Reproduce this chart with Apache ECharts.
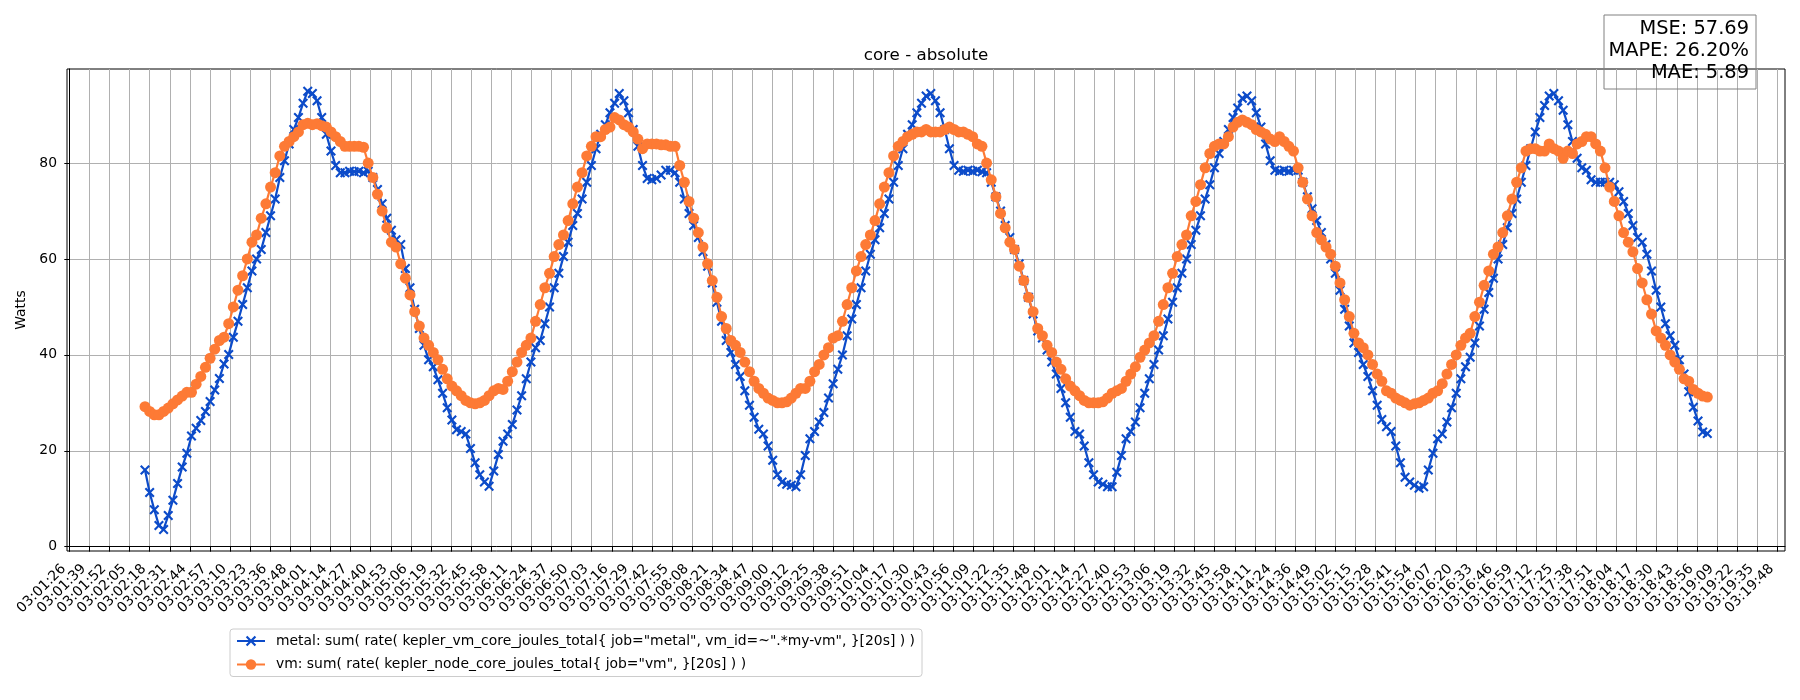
<!DOCTYPE html>
<html>
<head>
<meta charset="utf-8">
<script src="https://cdn.jsdelivr.net/npm/echarts@6/dist/echarts.min.js"></script>
<style>html,body{margin:0;padding:0;background:#fff}#c{width:1800px;height:700px}</style>
</head>
<body>
<div id="c"></div>
<script>
const tickLabels = ['03:01:26','03:01:39','03:01:52','03:02:05','03:02:18','03:02:31','03:02:44','03:02:57','03:03:10','03:03:23','03:03:36','03:03:48','03:04:01','03:04:14','03:04:27','03:04:40','03:04:53','03:05:06','03:05:19','03:05:32','03:05:45','03:05:58','03:06:11','03:06:24','03:06:37','03:06:50','03:07:03','03:07:16','03:07:29','03:07:42','03:07:55','03:08:08','03:08:21','03:08:34','03:08:47','03:09:00','03:09:12','03:09:25','03:09:38','03:09:51','03:10:04','03:10:17','03:10:30','03:10:43','03:10:56','03:11:09','03:11:22','03:11:35','03:11:48','03:12:01','03:12:14','03:12:27','03:12:40','03:12:53','03:13:06','03:13:19','03:13:32','03:13:45','03:13:58','03:14:11','03:14:24','03:14:36','03:14:49','03:15:02','03:15:15','03:15:28','03:15:41','03:15:54','03:16:07','03:16:20','03:16:33','03:16:46','03:16:59','03:17:12','03:17:25','03:17:38','03:17:51','03:18:04','03:18:17','03:18:30','03:18:43','03:18:56','03:19:09','03:19:22','03:19:35','03:19:48'];

const yTickValues = [0, 20, 40, 60, 80];

const seriesNames = [
  'metal: sum( rate( kepler_vm_core_joules_total{ job="metal", vm_id=~".*my-vm", }[20s] ) )',
  'vm: sum( rate( kepler_node_core_joules_total{ job="vm", }[20s] ) )'
];

// metal series (Watts), one sample every 3 s
const metalValues = [
  16.0, 11.3, 7.7, 4.4, 3.6, 6.5, 9.7, 13.2, 16.6, 19.5,
  23.1, 24.7, 26.3, 28.2, 30.3, 32.7, 35.1, 38.1, 40.1, 43.7,
  47, 50.5, 54, 57.5, 60, 62, 65.5, 69, 72.5, 77,
  80.5, 84, 87, 89.5, 92.5, 95, 94.5, 93, 89.5, 86,
  82.5, 79.5, 78, 78, 78.3, 78.2, 78.3, 78, 78.3, 77,
  74.5, 71.5, 68.5, 66, 64, 63, 58, 54, 49.5, 45.5,
  42, 39, 37.5, 34.8, 32, 29, 26.4, 24.4, 24, 23.5,
  20.5, 17.5, 15, 13.5, 12.6, 15.8, 19.2, 22, 23.5, 25.5,
  28.5, 31.5, 35, 38.5, 41.5, 43, 46.5, 50, 54, 57,
  60.5, 63.5, 67, 69.5, 72.5, 76, 79.5, 83, 86, 88,
  90.5, 92.5, 94.5, 93, 90.5, 87, 83.5, 79.5, 76.8, 76.5,
  76.8, 77.5, 78.5, 78.5, 78, 76, 72.5, 69.5, 67, 64.5,
  61.5, 58.5, 55, 51, 47, 43, 40.5, 38, 35.5, 32.5,
  29.5, 27, 24.5, 23.5, 21, 18, 15, 13.5, 13, 12.8,
  12.5, 15, 19, 22.5, 24, 26, 28, 31, 34, 37,
  40, 44, 47.5, 50.5, 54, 57.5, 61, 64, 66.5, 69.5,
  72.5, 76, 79.5, 83, 86, 88, 90.5, 92.5, 94, 94.5,
  93, 90.5, 87, 83, 79.5, 78.5, 78.3, 78.5, 78.3, 78.5,
  78.2, 78, 76, 73, 70, 67, 64.5, 62, 59, 55.5,
  52, 48.5, 45, 43.5, 41, 38.5, 36, 33, 30, 27,
  24, 23.5, 21, 17.5, 15, 13.5, 13, 12.5, 12.5, 15.5,
  19, 22.5, 24, 26, 29, 32, 35, 38, 41, 44,
  47.5, 51, 54, 57, 60, 63, 66, 69, 72.5, 75.5,
  79, 82, 84.5, 87, 89.5, 91.5, 93.5, 94, 93, 90.5,
  87.5, 84, 80.5, 78.5, 78.3, 78.5, 78.3, 78.5, 78.5, 76,
  73, 70.5, 68, 65.5, 63, 60, 57, 53.5, 49.5, 46,
  42.5, 40.5, 38, 35.5, 32.5, 29.5, 26.5, 25, 24, 21,
  17.5, 14.5, 13.5, 12.8, 12.2, 12.5, 16, 19.5, 22.5, 23.5,
  26, 29, 32, 35, 37.5, 39.5, 42.5, 46, 49.5, 53,
  56, 60, 63, 66.5, 69.5, 72.5, 76, 79.5, 83, 86.5,
  89.5, 92, 94, 94.5, 93, 91, 88, 84.5, 81, 79,
  78.5, 76.5, 76, 76, 76, 76, 75.5, 74, 72, 69.5,
  67, 64.5, 63.5, 61, 57.5, 53.5, 50, 46.5, 44, 42,
  39, 36, 32.3, 29.1, 26.2, 23.9, 23.6
];

// vm series (Watts), same sampling
const vmValues = [
  29.2, 28.2, 27.5, 27.5, 28.2, 28.9, 29.8, 30.6, 31.4, 32.2,
  32.2, 33.9, 35.5, 37.4, 39.3, 41.2, 43.0, 43.7, 46.5, 50,
  53.5, 56.5, 60, 63.5, 65, 68.5, 71.5, 75, 78, 81.5,
  83.5, 84.5, 85.5, 86.5, 88, 88.3, 88, 88.2, 87.8, 87.5,
  86.5, 85.5, 84.5, 83.5, 83.5, 83.5, 83.5, 83.3, 80, 77,
  73.5, 70, 66.5, 63.5, 62.5, 59, 56, 52.5, 49, 46,
  43.5, 42, 40.5, 39, 37, 35, 33.5, 32.5, 31.5, 30.5,
  30, 29.8, 30, 30.5, 31.5, 32.5, 33, 32.8, 34.5, 36.5,
  38.5, 40.5, 42, 43.5, 47, 50.5, 54, 57, 60.5, 63,
  65, 68, 71.5, 75, 78, 81.5, 83.5, 85.5, 85.5, 87,
  87.5, 89.5, 89, 88, 87.5, 86.5, 85, 83, 84, 84,
  84, 83.8, 83.8, 83.5, 83.5, 79.5, 76, 72, 68.5, 65.5,
  62.5, 59, 55.5, 52, 48, 45.5, 43, 42, 40.5, 38.5,
  36.5, 34.5, 33, 32, 31, 30.5, 30, 30, 30.2, 31,
  32, 33, 33, 34.5, 36.5, 38, 40, 41.5, 43.5, 44,
  47, 50.5, 54, 57.5, 60.5, 63, 65, 68, 71.5, 75,
  78, 81.5, 83.5, 84.5, 85.5, 86, 86.5, 86.5, 87, 86.5,
  86.5, 86.5, 87, 87.5, 87, 86.5, 86.5, 86, 85.5, 84,
  83.5, 80, 76.5, 73, 69.5, 66.5, 63.5, 62, 58.5, 55.5,
  52, 49, 45.5, 44, 42, 40.5, 38.5, 37, 35, 33.5,
  32.5, 31.5, 30.5, 30, 30, 30, 30.2, 31, 32, 32.5,
  33, 34.5, 36, 37.5, 39.5, 41, 42.5, 44, 47, 50.5,
  54, 57, 60.5, 63, 65, 69, 72, 75.5, 79, 82,
  83.5, 84, 84, 85.5, 87.5, 88.5, 89, 88.5, 88, 87,
  86.5, 86, 85, 84.5, 85.5, 84.5, 83.5, 82.5, 79, 76,
  72.5, 69, 65.5, 64, 62.5, 61, 58.5, 55, 51.5, 48,
  44.5, 42.5, 41.5, 40, 38, 36, 34.5, 32.5, 32, 31,
  30.5, 30, 29.5, 29.8, 30, 30.5, 31, 32, 32.5, 34,
  36, 38, 40, 42, 43.5, 44.5, 48, 51, 54.5, 57.5,
  61, 62.5, 65.5, 69, 72.5, 76, 79, 82.5, 83, 83,
  82.5, 82.5, 84, 83, 82.5, 81, 82.5, 82, 84, 84.5,
  85.5, 85.5, 84, 82.5, 79, 75, 72, 69, 65.5, 63.5,
  61.5, 58, 55, 51.5, 48.5, 45, 43.5, 42, 40, 38.5,
  37, 35, 34.5, 32.8, 32, 31.4, 31.2
];

const metricLines = ['MSE: 57.69', 'MAPE: 26.20%', 'MAE: 5.89'];
const chartTitle = 'core - absolute';
const yAxisName = 'Watts';

// time axis: seconds after 03:01:26
const TICK_STEP = 1102 / 85;     // spacing of the tick labels
const SAMPLE_START = 48.84;      // first sample time
const SAMPLE_STEP = 3;           // sampling period

const tickValues = tickLabels.map((_, k) => k * TICK_STEP);
const toPairs = vals => vals.map((v, i) => [SAMPLE_START + i * SAMPLE_STEP, v]);

const BLUE = '#0c4bc9';
const ORANGE = '#fd7a35';
const FONT = 'DejaVu Sans';
const X_SYMBOL = 'path://M0,1.5L1.5,0L5,3.5L8.5,0L10,1.5L6.5,5L10,8.5L8.5,10L5,6.5L1.5,10L0,8.5L3.5,5Z';

const chart = echarts.init(document.getElementById('c'), null, {renderer: 'canvas'});
chart.setOption({
  animation: false,
  backgroundColor: '#fff',
  textStyle: {fontFamily: FONT, color: '#000'},
  grid: {left: 67, right: 15, top: 69, bottom: 149, show: true, borderColor: '#000', borderWidth: 1, backgroundColor: 'transparent'},
  xAxis: {
    type: 'value',
    min: -0.1145 * TICK_STEP,
    max: 85.383 * TICK_STEP,
    axisLine: {show: true, lineStyle: {color: '#000', width: 1}},
    axisTick: {show: true, length: 5, customValues: tickValues, lineStyle: {color: '#000', width: 1}},
    axisLabel: {
      customValues: tickValues, rotate: 45, margin: 10, padding: [0, 8, 0, 0],
      fontSize: 13.9, color: '#000', fontFamily: FONT,
      formatter: v => tickLabels[Math.round(v / TICK_STEP)] || ''
    },
    splitLine: {show: true, lineStyle: {color: '#b0b0b0', width: 1}}
  },
  yAxis: {
    type: 'value',
    min: -0.9,
    max: 99.62,
    name: yAxisName,
    nameLocation: 'middle',
    nameGap: 34,
    nameRotate: 90,
    nameTextStyle: {fontSize: 13.9, color: '#000', fontFamily: FONT},
    axisLine: {show: true, lineStyle: {color: '#000', width: 1}},
    axisTick: {show: true, length: 5, customValues: yTickValues, lineStyle: {color: '#000', width: 1}},
    axisLabel: {customValues: yTickValues, margin: 10, fontSize: 13.9, color: '#000', fontFamily: FONT},
    splitLine: {show: true, lineStyle: {color: '#b0b0b0', width: 1}}
  },
  legend: {
    orient: 'vertical',
    left: 230,
    top: 629,
    padding: [4, 7, 4, 6],
    itemGap: 7.5,
    itemWidth: 28,
    itemHeight: 13,
    borderColor: '#cccccc',
    borderWidth: 1,
    borderRadius: 3,
    backgroundColor: 'rgba(255,255,255,0.8)',
    textStyle: {fontSize: 13.9, color: '#000', fontFamily: FONT, lineHeight: 16, padding: [0, 0, 0, 6]},
    data: seriesNames
  },
  graphic: [
    {type: 'text', z: 100, style: {text: chartTitle, x: 926, y: 56, align: 'center', verticalAlign: 'middle', font: '16.7px "DejaVu Sans"', fill: '#000'}},
    {type: 'rect', z: 100, shape: {x: 1604, y: 15, width: 152, height: 74}, style: {fill: 'rgba(255,255,255,0)', stroke: '#808080', lineWidth: 1}},
    ...metricLines.map((t, k) => ({
      type: 'text', z: 101,
      style: {text: t, x: 1749, y: [29.2, 50.9, 72.5][k], align: 'right', verticalAlign: 'middle', font: '19.4px "DejaVu Sans"', fill: '#000'}
    }))
  ],
  series: [
    {
      name: seriesNames[0], type: 'line', data: toPairs(metalValues),
      symbol: X_SYMBOL, symbolSize: 10, showSymbol: true,
      lineStyle: {color: BLUE, width: 2.2}, itemStyle: {color: BLUE}, z: 3
    },
    {
      name: seriesNames[1], type: 'line', data: toPairs(vmValues),
      symbol: 'circle', symbolSize: 11, showSymbol: true,
      lineStyle: {color: ORANGE, width: 2.2}, itemStyle: {color: ORANGE, borderWidth: 0}, z: 4
    }
  ]
});
</script>
</body>
</html>
